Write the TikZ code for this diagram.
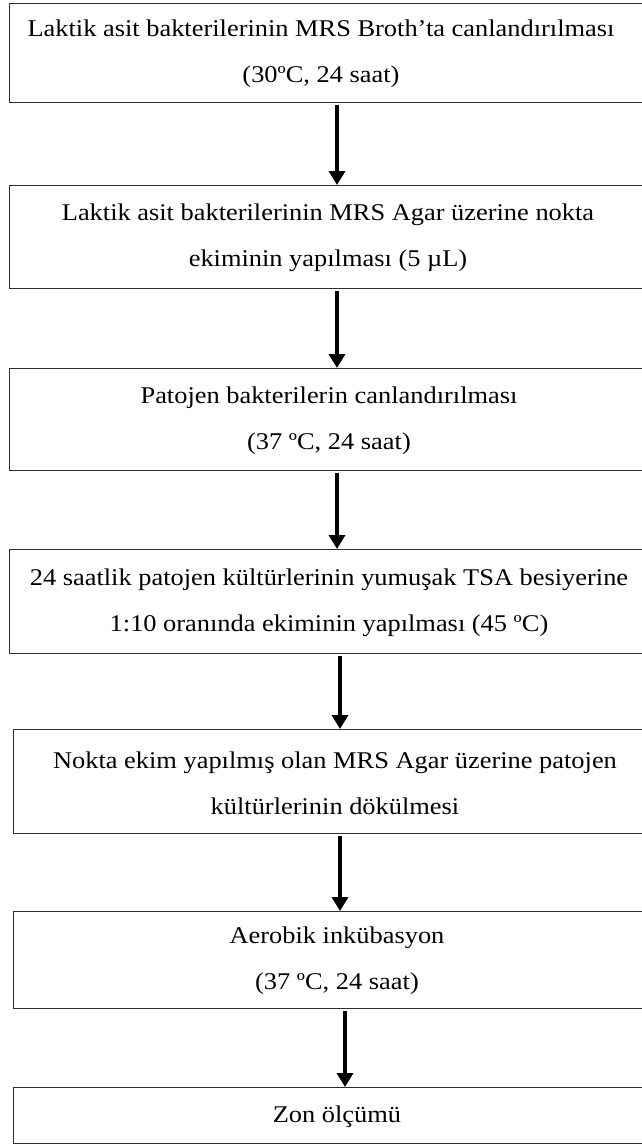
\documentclass[tikz,border=0pt]{standalone}
\usepackage{fontspec}
\setmainfont[FakeStretch=1.1]{Liberation Serif}
\usetikzlibrary{arrows.meta, positioning, calc}
\definecolor{frame}{RGB}{45,45,45}

\begin{document}
\begin{tikzpicture}[x=1pt, y=-1pt,
  stepbox/.style={draw=frame, line width=1.4pt, rectangle, anchor=north west, inner sep=0pt, minimum width=700pt},
  steptext/.style={align=center, inner sep=0pt, font=\fontsize{24}{46}\selectfont},
  flow/.style={-{Triangle[length=14pt, width=16pt]}, line width=4pt, shorten <=2pt}]
  \useasboundingbox (0,0) rectangle (642,1144);
  \clip (0,0) rectangle (642,1144);
  % Boxes
  \node[stepbox, minimum height=99pt] (b1) at (9,3) {};
  \node[stepbox, minimum height=103pt] (b2) at (9,185) {};
  \node[stepbox, minimum height=102pt] (b3) at (9,368) {};
  \node[stepbox, minimum height=104pt] (b4) at (9,549) {};
  \node[stepbox, minimum height=104pt] (b5) at (13,729) {};
  \node[stepbox, minimum height=97pt] (b6) at (13,911) {};
  \node[stepbox, minimum height=56pt] (b7) at (13,1087) {};
  % Texts
  \node[steptext] (t1) at (321,54) {Laktik asit bakterilerinin MRS Broth’ta canlandırılması\\(30ºC, 24 saat)};
  \node[steptext] (t2) at (328,238) {Laktik asit bakterilerinin MRS Agar üzerine nokta\\ekiminin yapılması (5 µL)};
  \node[steptext] (t3) at (329,421) {Patojen bakterilerin canlandırılması\\(37 ºC, 24 saat)};
  \node[steptext] (t4) at (329,603) {24 saatlik patojen kültürlerinin yumuşak TSA besiyerine\\1:10 oranında ekiminin yapılması (45 ºC)};
  \node[steptext] (t5) at (335,783) {Nokta ekim yapılmış olan MRS Agar üzerine patojen\\kültürlerinin dökülmesi};
  \node[steptext] (t6) at (337,961) {Aerobik inkübasyon\\(37 ºC, 24 saat)};
  \node[steptext] (t7) at (337,1117) {Zon ölçümü};
  % Arrows
  \coordinate (a1) at (337,0);
  \coordinate (a4) at (340,0);
  \coordinate (a6) at (345,0);
  \draw[flow] (a1 |- b1.south) -- (a1 |- b2.north);
  \draw[flow] (a1 |- b2.south) -- (a1 |- b3.north);
  \draw[flow] (a1 |- b3.south) -- (a1 |- b4.north);
  \draw[flow] (a4 |- b4.south) -- (a4 |- b5.north);
  \draw[flow] (a4 |- b5.south) -- (a4 |- b6.north);
  \draw[flow] (a6 |- b6.south) -- (a6 |- b7.north);
\end{tikzpicture}
\end{document}
